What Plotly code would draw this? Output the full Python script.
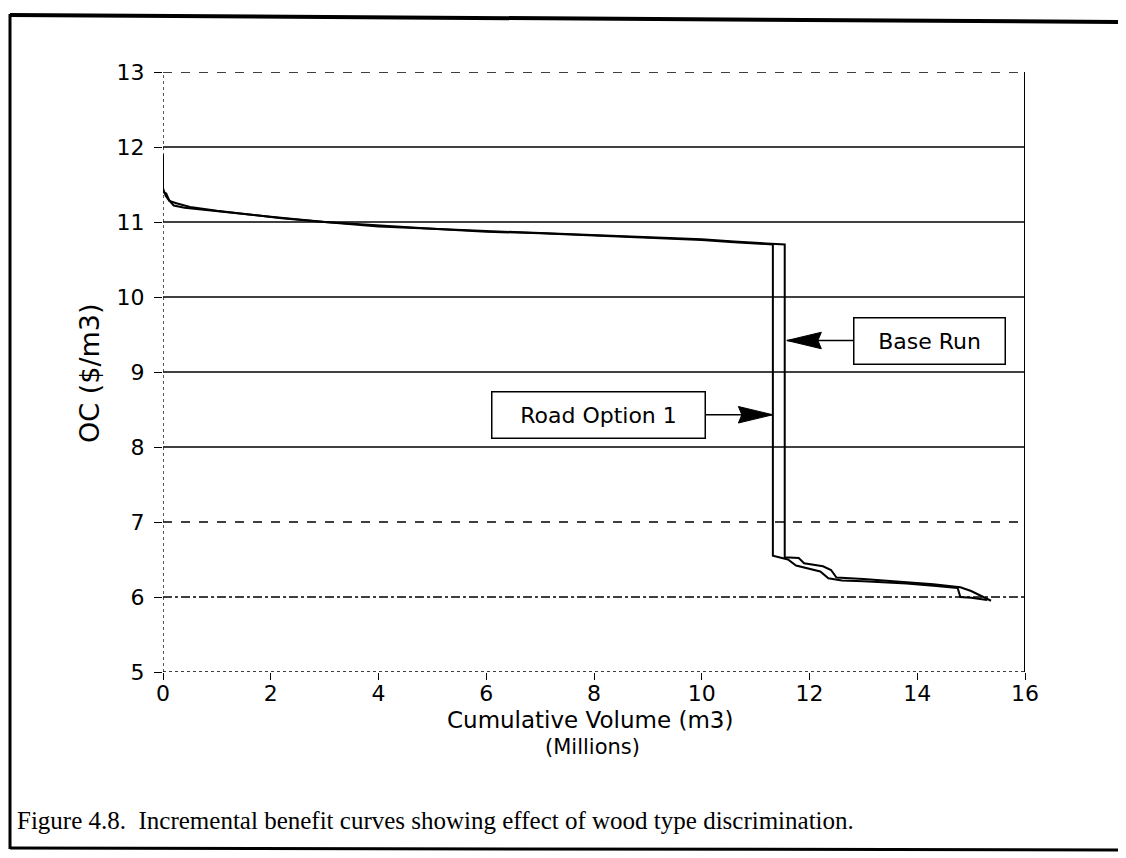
import plotly.graph_objects as go

# ---- data ----
base_x = [0, 0, 0.05, 0.1, 0.2, 0.4, 0.8, 1.4, 2.0, 3.0, 4.0, 5.0, 6.0, 7.0, 8.0, 9.0, 10.0, 10.6, 11.0,
          11.54, 11.54, 11.8, 11.9, 12.25, 12.4, 12.5, 13.0, 13.8, 14.3, 14.8, 15.0, 15.37]
base_y = [11.85, 11.45, 11.35, 11.3, 11.22, 11.19, 11.16, 11.12, 11.07, 11.0, 10.95, 10.91, 10.88, 10.85,
          10.83, 10.8, 10.77, 10.74, 10.72, 10.7, 6.53, 6.52, 6.45, 6.41, 6.36, 6.26, 6.24, 6.2, 6.17,
          6.13, 6.08, 5.95]

road_x = [0, 0, 0.06, 0.12, 0.25, 0.5, 1.0, 1.6, 2.2, 3.0, 4.0, 5.0, 6.0, 7.0, 8.0, 9.0, 10.0, 10.6, 11.0,
          11.32, 11.32, 11.6, 11.75, 11.95, 12.2, 12.35, 12.6, 13.0, 13.8, 14.3, 14.75, 14.8, 15.0, 15.3]
road_y = [11.9, 11.4, 11.38, 11.28, 11.25, 11.2, 11.15, 11.1, 11.05, 11.0, 10.94, 10.91, 10.87, 10.85,
          10.82, 10.79, 10.76, 10.73, 10.71, 10.7, 6.55, 6.5, 6.42, 6.38, 6.34, 6.25, 6.22, 6.21, 6.18,
          6.15, 6.12, 6.0, 5.99, 5.96]

x_ticks = [0, 2, 4, 6, 8, 10, 12, 14, 16]
y_ticks = [5, 6, 7, 8, 9, 10, 11, 12, 13]
grid_dash = {13: "dash", 12: "solid", 11: "solid", 10: "solid", 9: "solid", 8: "solid",
             7: "dash", 6: "dashdot", 5: "dot"}

# annotation anchors: (label, tip x, tip y, box centre x, box text width)
labels = [("Base Run", 11.58, 9.42, 14.22, 148),
          ("Road Option 1", 11.32, 8.43, 8.09, 210)]

FONT = "DejaVu Sans"

fig = go.Figure()
fig.add_trace(go.Scatter(x=base_x, y=base_y, mode="lines", name="Base Run",
                         line=dict(color="black", width=2), showlegend=False))
fig.add_trace(go.Scatter(x=road_x, y=road_y, mode="lines", name="Road Option 1",
                         line=dict(color="black", width=2), showlegend=False))

shapes = []
for yv in y_ticks:
    shapes.append(dict(type="line", xref="x", yref="y", x0=0, x1=16, y0=yv, y1=yv,
                       line=dict(color="black", width=1.4, dash=grid_dash[yv]), layer="below"))
# left axis (dotted) and right border (solid)
shapes.append(dict(type="line", xref="x", yref="y", x0=0, x1=0, y0=5, y1=13,
                   line=dict(color="black", width=1.3, dash="dot")))
shapes.append(dict(type="line", xref="x", yref="y", x0=16, x1=16, y0=5, y1=13,
                   line=dict(color="black", width=2)))

# arrowheads (filled triangles)
head_len = 0.64
head_hw = 0.11
for (txt, tx, ty, bx, w) in labels:
    d = 1 if bx > tx else -1
    path = (f"M {tx},{ty} L {tx + d*head_len},{ty + head_hw} "
            f"L {tx + d*head_len*0.9},{ty} L {tx + d*head_len},{ty - head_hw} Z")
    shapes.append(dict(type="path", xref="x", yref="y", path=path,
                       fillcolor="black", line=dict(color="black", width=1)))

# outer frame (paper coords; plot area on screen = 163..1025 x 72..672 px)
def px(v):
    return (v - 163) / 862.0

def py(v):
    return (672 - v) / 600.0

shapes.append(dict(type="line", xref="paper", yref="paper", x0=px(10), x1=px(10), y0=py(14), y1=py(849),
                   line=dict(color="black", width=3)))
shapes.append(dict(type="line", xref="paper", yref="paper", x0=px(10), x1=px(1126), y0=py(15), y1=py(22),
                   line=dict(color="black", width=4)))
shapes.append(dict(type="line", xref="paper", yref="paper", x0=px(10), x1=px(1126), y0=py(848), y1=py(850),
                   line=dict(color="black", width=3)))

annotations = []
for (txt, tx, ty, bx, w) in labels:
    annotations.append(dict(text=txt, x=tx, y=ty, ax=bx, ay=ty, xref="x", yref="y",
                            axref="x", ayref="y", showarrow=True, arrowhead=0, arrowwidth=1.5,
                            arrowcolor="black", standoff=0, startstandoff=0,
                            bordercolor="black", borderwidth=1.5, borderpad=1, bgcolor="white",
                            width=w, height=43, align="center", valign="middle",
                            font=dict(family=FONT, size=22, color="black")))

annotations.append(dict(text="Cumulative Volume (m3)", xref="paper", yref="paper",
                        x=px(590), y=py(720), xanchor="center", yanchor="middle", showarrow=False,
                        font=dict(family=FONT, size=23, color="black")))
annotations.append(dict(text="(Millions)", xref="paper", yref="paper",
                        x=px(592), y=py(747), xanchor="center", yanchor="middle", showarrow=False,
                        font=dict(family=FONT, size=21, color="black")))
annotations.append(dict(text="OC ($/m3)", xref="paper", yref="paper", textangle=-90,
                        x=px(89), y=py(373), xanchor="center", yanchor="middle", showarrow=False,
                        font=dict(family=FONT, size=27, color="black")))
annotations.append(dict(text="Figure 4.8.  Incremental benefit curves showing effect of wood type discrimination.",
                        xref="paper", yref="paper", x=px(15), y=py(820), xanchor="left",
                        yanchor="middle", showarrow=False,
                        font=dict(family="Liberation Serif", size=25, color="black")))

fig.update_layout(
    width=1126, height=858, autosize=False,
    margin=dict(l=155, r=109, t=64, b=194),
    paper_bgcolor="white", plot_bgcolor="white",
    shapes=shapes, annotations=annotations, showlegend=False,
    xaxis=dict(range=[0, 16], tickvals=x_ticks, ticktext=[str(v) for v in x_ticks],
               showgrid=False, zeroline=False, showline=False,
               ticks="outside", ticklen=7, tickwidth=1.3, tickcolor="black",
               ticklabelstandoff=-5,
               tickfont=dict(family=FONT, size=22, color="black")),
    yaxis=dict(range=[5, 13], tickvals=y_ticks, ticktext=[str(v) for v in y_ticks],
               showgrid=False, zeroline=False, showline=False,
               ticks="outside", ticklen=8, tickwidth=1.3, tickcolor="black",
               ticklabelstandoff=5,
               tickfont=dict(family=FONT, size=22, color="black")),
)

fig.write_html("out.html")
